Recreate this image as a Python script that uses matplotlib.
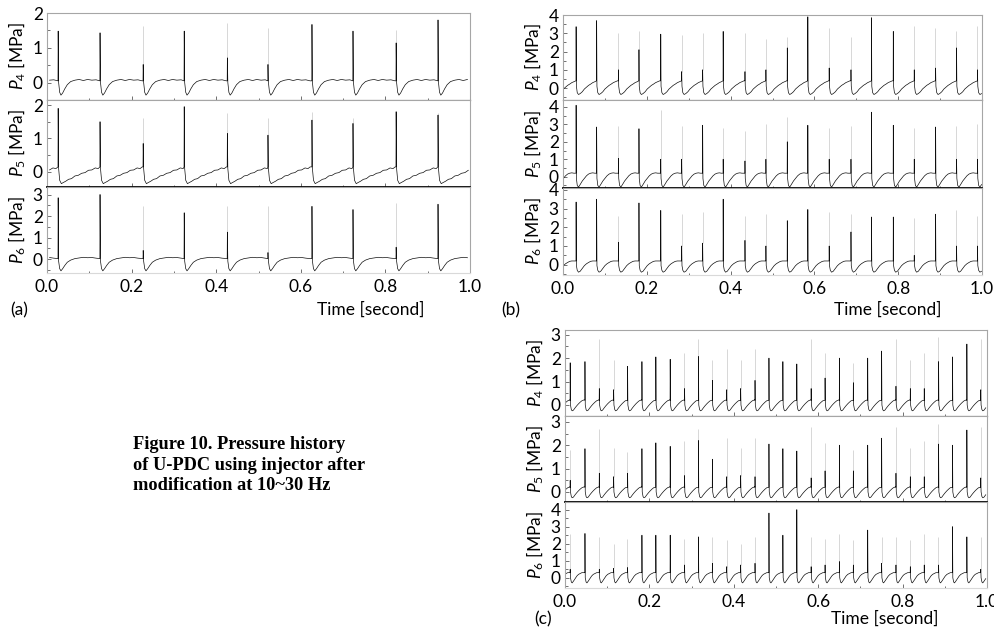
import matplotlib

matplotlib.use("Agg")
import matplotlib.pyplot as plt
import numpy as np
from matplotlib.ticker import MultipleLocator, FormatStrFormatter

plt.rcParams["font.family"] = ["Lato", "DejaVu Sans"]
plt.rcParams["mathtext.fontset"] = "custom"
plt.rcParams["mathtext.it"] = "Lato:italic"
plt.rcParams["mathtext.rm"] = "Lato"

# ---- (a) ~10 Hz ----
A_TIMES = [0.026, 0.125, 0.227, 0.324, 0.426, 0.522, 0.626, 0.723, 0.825, 0.924]
A4_PEAK = [1.48, 1.43, 0.52, 1.48, 0.71, 0.52, 1.67, 1.48, 1.14, 1.80]
A4_TOP = [1.48, 1.43, 1.62, 1.48, 1.70, 1.57, 1.67, 1.48, 1.52, 1.80]
A5_PEAK = [1.90, 1.50, 0.85, 1.95, 1.15, 1.10, 1.55, 1.45, 1.80, 1.70]
A5_TOP = [1.90, 1.50, 1.60, 1.95, 1.75, 1.60, 1.80, 1.60, 1.80, 1.75]
A6_PEAK = [2.85, 3.00, 0.40, 2.15, 1.25, 0.30, 2.45, 2.30, 0.55, 2.55]
A6_TOP = [2.85, 3.00, 2.45, 2.15, 2.45, 2.45, 2.45, 2.30, 2.60, 2.55]

# cycle shapes: offset after spike [s] and pressure [MPa]; index 1 is the peak
A4_DT = [0, 0.0004, 0.0015, 0.004, 0.007, 0.011, 0.016, 0.022, 0.030, 0.040, 0.050, 0.060, 0.070, 0.080, 0.090, 0.100]
A4_V = [0.05, 0, 0.00, -0.28, -0.36, -0.30, -0.18, -0.06, 0.03, 0.07, 0.09, 0.06, 0.09, 0.07, 0.08, 0.05]
A5_DT = [0, 0.0004, 0.0015, 0.004, 0.008, 0.012, 0.018, 0.025, 0.032, 0.040, 0.048, 0.056, 0.064, 0.072, 0.080, 0.088, 0.095, 0.100]
A5_V = [0.15, 0, 0.10, -0.25, -0.35, -0.32, -0.28, -0.22, -0.20, -0.12, -0.10, -0.04, -0.02, 0.05, 0.06, 0.12, 0.10, 0.15]
A6_DT = [0, 0.0004, 0.0015, 0.004, 0.007, 0.011, 0.016, 0.022, 0.030, 0.040, 0.050, 0.060, 0.070, 0.080, 0.090, 0.100]
A6_V = [0.02, 0, -0.10, -0.45, -0.55, -0.45, -0.30, -0.15, -0.05, 0.02, 0.05, 0.08, 0.06, 0.07, 0.04, 0.02]

# ---- (b) ~20 Hz ----
B_TIMES = [0.031, 0.080, 0.132, 0.181, 0.233, 0.283, 0.333, 0.382, 0.434, 0.484,
           0.535, 0.584, 0.635, 0.687, 0.736, 0.788, 0.838, 0.889, 0.939, 0.989]
B4_PEAK = [3.36, 3.69, 1.00, 2.10, 2.95, 0.90, 1.00, 3.10, 0.90, 1.00,
           2.20, 3.90, 1.10, 1.00, 3.85, 3.10, 1.00, 1.10, 2.20, 1.00]
B4_TOP = [3.36, 3.69, 3.00, 3.10, 2.95, 2.90, 3.00, 3.10, 3.00, 2.70,
          2.80, 3.90, 3.30, 2.80, 3.85, 3.10, 3.40, 3.30, 3.10, 3.40]
B5_PEAK = [4.10, 2.85, 1.05, 2.75, 1.00, 1.00, 2.95, 1.00, 0.90, 1.00,
           2.00, 2.95, 1.00, 1.00, 3.70, 2.95, 1.00, 2.85, 1.00, 1.00]
B5_TOP = [4.10, 2.85, 2.90, 2.75, 3.80, 2.90, 2.95, 2.80, 2.60, 3.00,
          3.45, 2.95, 2.80, 2.90, 3.70, 2.95, 2.80, 2.85, 2.90, 3.00]
B6_PEAK = [3.35, 3.50, 1.20, 3.30, 2.90, 1.00, 1.15, 3.50, 1.30, 1.00,
           2.35, 2.95, 1.00, 1.75, 2.55, 2.55, 0.50, 2.70, 1.00, 1.00]
B6_TOP = [3.35, 3.50, 2.60, 3.30, 2.90, 2.70, 2.80, 3.50, 2.60, 2.70,
          2.40, 2.95, 2.80, 2.70, 2.55, 2.55, 2.50, 2.70, 2.90, 2.60]

B4_DT = [0, 0.0003, 0.001, 0.003, 0.006, 0.010, 0.015, 0.020, 0.025, 0.030, 0.035, 0.040, 0.045, 0.050]
B4_V = [0.40, 0, 0.10, -0.25, -0.35, -0.30, -0.20, -0.05, 0.05, 0.15, 0.22, 0.30, 0.35, 0.40]
B5_DT = B4_DT
B5_V = [0.20, 0, -0.10, -0.50, -0.60, -0.45, -0.25, -0.10, 0.05, 0.15, 0.20, 0.22, 0.20, 0.20]
B6_DT = B4_DT
B6_V = [0.20, 0, -0.05, -0.30, -0.40, -0.35, -0.20, -0.05, 0.05, 0.12, 0.18, 0.20, 0.20, 0.20]

# ---- (c) ~30 Hz ----
C_TIMES = [0.012, 0.047, 0.081, 0.115, 0.148, 0.182, 0.215, 0.249, 0.283, 0.316,
           0.349, 0.383, 0.416, 0.450, 0.483, 0.516, 0.549, 0.583, 0.616, 0.650,
           0.683, 0.717, 0.750, 0.784, 0.818, 0.851, 0.885, 0.918, 0.952, 0.985]
C4_PEAK = [1.80, 1.85, 0.70, 0.65, 1.65, 1.85, 2.05, 1.95, 0.70, 2.07,
           1.05, 0.65, 0.70, 1.05, 2.00, 1.85, 1.75, 0.70, 1.15, 2.00,
           0.95, 2.00, 2.30, 0.80, 0.70, 0.70, 1.85, 2.05, 2.60, 0.65]
C4_TOP = [1.80, 1.85, 2.80, 1.90, 1.65, 1.85, 2.05, 1.95, 2.20, 2.80,
          1.90, 2.40, 1.90, 2.40, 2.00, 1.85, 1.75, 2.80, 2.20, 2.00,
          1.80, 2.00, 2.30, 2.80, 1.90, 2.20, 2.90, 2.05, 2.60, 2.80]
C5_PEAK = [0.50, 1.85, 0.80, 0.65, 0.80, 1.85, 2.10, 1.95, 0.70, 2.20,
           1.40, 0.65, 0.70, 0.65, 2.05, 1.85, 1.75, 0.60, 0.90, 2.00,
           0.90, 2.00, 2.30, 0.80, 0.65, 0.65, 2.05, 2.00, 2.65, 0.60]
C5_TOP = [1.80, 1.85, 2.70, 1.90, 1.70, 1.85, 2.10, 1.95, 2.20, 2.70,
          1.40, 2.30, 1.90, 2.30, 2.05, 1.85, 1.75, 2.80, 2.10, 2.00,
          1.80, 2.00, 2.30, 2.80, 1.90, 2.20, 2.90, 2.00, 2.65, 2.80]
C6_PEAK = [0.50, 2.60, 0.50, 0.55, 0.60, 2.50, 2.50, 2.50, 0.75, 2.40,
           0.85, 0.65, 0.75, 0.85, 3.80, 2.50, 4.00, 0.65, 0.75, 0.95,
           0.75, 2.80, 0.85, 0.75, 0.65, 0.75, 0.75, 3.00, 2.40, 0.50]
C6_TOP = [2.60, 2.60, 2.40, 2.00, 2.30, 2.50, 2.50, 2.50, 2.30, 2.40,
          2.40, 2.20, 2.00, 2.40, 3.80, 2.50, 4.00, 2.40, 2.30, 2.60,
          2.20, 2.80, 2.40, 2.40, 2.20, 2.60, 2.40, 3.00, 2.40, 2.40]

C4_DT = [0, 0.0003, 0.001, 0.003, 0.005, 0.008, 0.012, 0.016, 0.020, 0.024, 0.028, 0.0335]
C4_V = [0.20, 0, 0.00, -0.20, -0.25, -0.22, -0.12, -0.03, 0.05, 0.12, 0.18, 0.22]
C5_DT = C4_DT
C5_V = C4_V
C6_DT = C4_DT
C6_V = [0.30, 0, 0.00, -0.25, -0.30, -0.20, -0.05, 0.10, 0.20, 0.25, 0.30, 0.30]

W, H = 994, 628


def trace(times, peaks, dt, val):
    dt = np.asarray(dt, float)
    val = np.asarray(val, float)
    xs, ys = [], []
    # lead-in: tail of a cycle that ends at the first spike
    t0 = times[0] - dt[-1]
    keep = (t0 + dt[2:]) >= 0
    xs.extend(t0 + dt[2:][keep])
    ys.extend(val[2:][keep])
    nxt = list(times[1:]) + [1.0]
    for t, p, tn in zip(times, peaks, nxt):
        v = val.copy()
        v[1] = p
        m = (t + dt) < tn
        xs.extend(t + dt[m])
        ys.extend(v[m])
    x = np.array(xs)
    y = np.array(ys)
    m = x <= 1.0
    return x[m], y[m]


def add_ax(fig, left, right, top, bottom):
    return fig.add_axes([left / W, 1 - bottom / H, (right - left) / W, (bottom - top) / H])


def style(ax, ylim, yticks, last, sep_black):
    ax.set_xlim(0, 1)
    ax.set_ylim(*ylim)
    ax.set_yticks(yticks)
    ax.yaxis.set_minor_locator(MultipleLocator(0.5))
    ax.xaxis.set_major_locator(MultipleLocator(0.2))
    ax.xaxis.set_minor_locator(MultipleLocator(0.1))
    ax.xaxis.set_major_formatter(FormatStrFormatter("%.1f"))
    ax.tick_params(which="both", direction="in", color="0.35", width=0.6, labelsize=12.5, pad=3)
    ax.tick_params(which="major", length=3)
    ax.tick_params(which="minor", length=1.8)
    ax.tick_params(axis="x", labelbottom=last, pad=4)
    for s in ("left", "right", "top"):
        ax.spines[s].set_color("0.65")
        ax.spines[s].set_linewidth(0.8)
    if sep_black:
        ax.spines["bottom"].set_color("black")
        ax.spines["bottom"].set_linewidth(1.3)
    elif last:
        ax.spines["bottom"].set_color("0.85")
        ax.spines["bottom"].set_linewidth(0.8)
    else:
        ax.spines["bottom"].set_color("0.6")
        ax.spines["bottom"].set_linewidth(0.9)
    ax.yaxis.set_label_coords(-0.046, 0.5)


def draw(ax, times, peak, top, dt, val, label):
    x, y = trace(times, peak, dt, val)
    ax.vlines(times, peak, top, colors="0.82", lw=0.6)
    ax.plot(x, y, color="0.05", lw=0.5)
    ax.set_ylabel(label, fontsize=12.5, labelpad=0)


fig = plt.figure(figsize=(W / 100, H / 100), dpi=100)

panels = [
    # left, right, axes top/bottom edges, spike times, series, ylims, yticks
    (47, 470, [13, 100, 187, 273], A_TIMES,
     [(A4_PEAK, A4_TOP, A4_DT, A4_V), (A5_PEAK, A5_TOP, A5_DT, A5_V), (A6_PEAK, A6_TOP, A6_DT, A6_V)],
     [(-0.5, 2.0), (-0.45, 2.15), (-0.65, 3.35)],
     [[0, 1, 2], [0, 1, 2], [0, 1, 2, 3]]),
    (563, 982, [15, 100, 188, 275], B_TIMES,
     [(B4_PEAK, B4_TOP, B4_DT, B4_V), (B5_PEAK, B5_TOP, B5_DT, B5_V), (B6_PEAK, B6_TOP, B6_DT, B6_V)],
     [(-0.65, 4.0), (-0.65, 4.4), (-0.55, 4.1)],
     [[0, 1, 2, 3, 4], [0, 1, 2, 3, 4], [0, 1, 2, 3, 4]]),
    (565, 987, [330, 416, 502, 588], C_TIMES,
     [(C4_PEAK, C4_TOP, C4_DT, C4_V), (C5_PEAK, C5_TOP, C5_DT, C5_V), (C6_PEAK, C6_TOP, C6_DT, C6_V)],
     [(-0.47, 3.2), (-0.43, 3.25), (-0.6, 4.45)],
     [[0, 1, 2, 3], [0, 1, 2, 3], [0, 1, 2, 3, 4]]),
]

for left, right, edges, times, series, ylims, yticks in panels:
    for i, (pk, tp, dt, val) in enumerate(series):
        ax = add_ax(fig, left, right, edges[i], edges[i + 1])
        draw(ax, times, pk, tp, dt, val, rf"$P_{{{i + 4}}}$ [MPa]")
        style(ax, ylims[i], yticks[i], last=(i == 2), sep_black=(i == 1))

for x, y in [(371, 310), (888, 310), (885, 619)]:
    fig.text(x / W, 1 - y / H, "Time [second]", ha="center", va="center", fontsize=12.5)
for x, y, tag in [(19, 310, "(a)"), (511, 310, "(b)"), (543, 619, "(c)")]:
    fig.text(x / W, 1 - y / H, tag, ha="center", va="center", fontsize=12.5)

fig.text(133 / W, 1 - 465 / H,
         "Figure 10. Pressure history\nof U-PDC using injector after\nmodification at 10~30 Hz",
         ha="left", va="center", fontsize=13.2, fontweight="bold",
         family=["Liberation Serif", "DejaVu Serif"], linespacing=1.25)

fig.savefig("out.png", dpi=100)
